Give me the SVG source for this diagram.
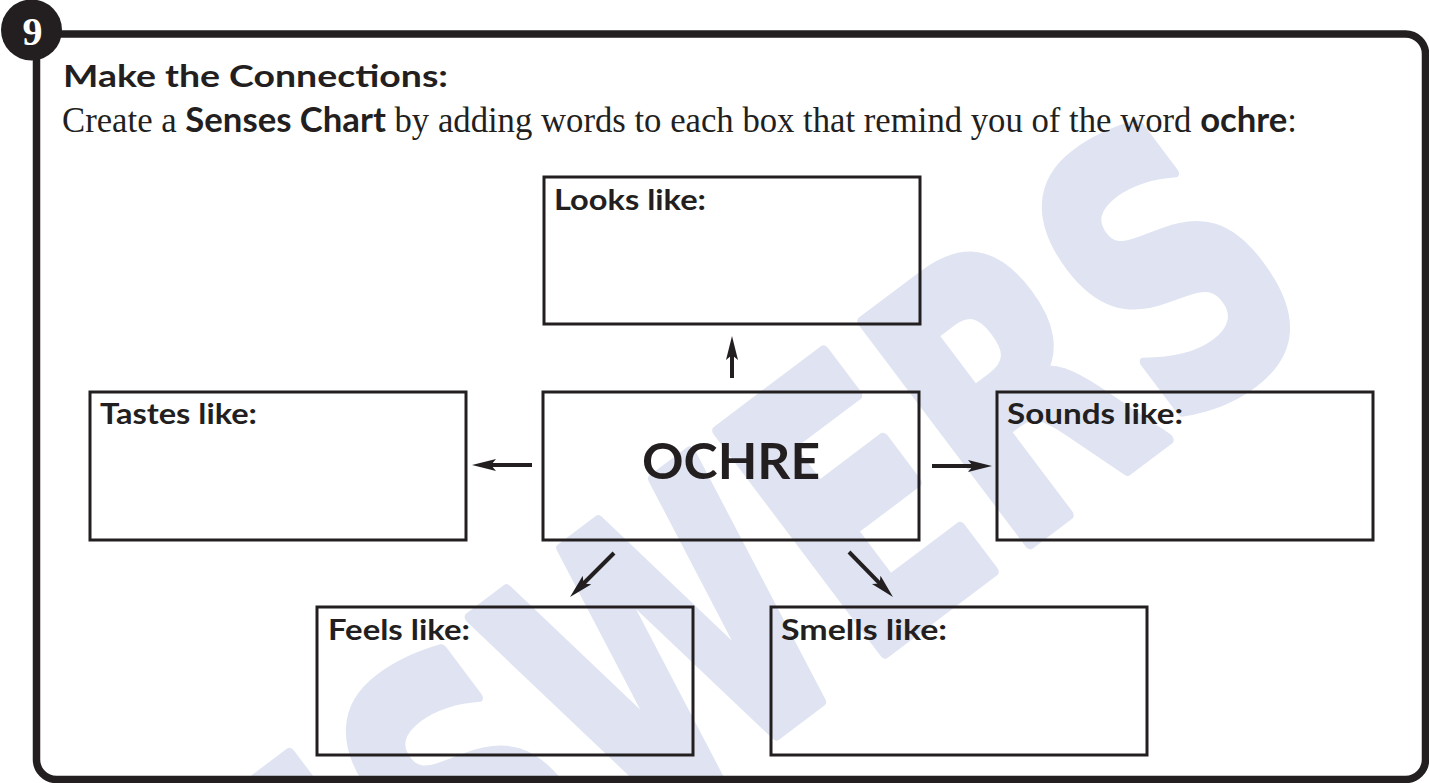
<svg xmlns="http://www.w3.org/2000/svg" width="1429" height="783" viewBox="0 0 1429 783">
<style>
.box{fill:none;stroke:#231f20;stroke-width:3}
.lbl{font-family:Lato,"Open Sans",sans-serif;font-weight:bold;font-size:29px;fill:#231f20}
.arr{stroke:#231f20;stroke-width:4;fill:none}
.wm{font-family:"DejaVu Sans","Liberation Sans",sans-serif;font-weight:bold;fill:#e0e4f2;stroke:#e0e4f2;stroke-width:12;stroke-linejoin:round}
</style>
<defs>
<marker id="ah" markerUnits="userSpaceOnUse" markerWidth="24" markerHeight="12" viewBox="0 0 24 12" refX="12" refY="6" orient="auto">
<path d="M0,0 L24,6 L0,12 L5,6 Z" fill="#231f20"/>
</marker>
</defs>
<rect width="1429" height="783" fill="#ffffff"/>
<g id="watermark">
<text class="wm" transform="translate(1326,320) rotate(-37) scale(0.7,1)" text-anchor="end" font-size="380">ANSWERS</text>
</g>
<g id="frame">
<rect x="36.5" y="34" width="1389" height="745.5" rx="20" fill="none" stroke="#231f20" stroke-width="7.5"/>
</g>
<g id="badge">
<circle cx="31.5" cy="30" r="30.5" fill="#231f20"/>
<text x="32.5" y="45" text-anchor="middle" font-family="'Liberation Serif',serif" font-weight="bold" font-size="40" fill="#ffffff">9</text>
</g>
<g id="heading">
<text x="63" y="87" font-family="Lato,'Open Sans',sans-serif" font-weight="bold" font-size="31" fill="#231f20" textLength="385" lengthAdjust="spacingAndGlyphs">Make the Connections:</text>
<text x="62" y="132" font-family="'Liberation Serif',serif" font-size="35" fill="#231f20" textLength="1235" lengthAdjust="spacingAndGlyphs">Create a <tspan font-family="Lato,'Open Sans',sans-serif" font-weight="bold">Senses Chart</tspan> by adding words to each box that remind you of the word <tspan font-family="Lato,'Open Sans',sans-serif" font-weight="bold">ochre</tspan>:</text>
</g>
<g id="connectors">
<line class="arr" x1="732" y1="378" x2="732" y2="348" marker-end="url(#ah)"/>
<line class="arr" x1="532" y1="465" x2="484" y2="465" marker-end="url(#ah)"/>
<line class="arr" x1="932" y1="466" x2="980" y2="466" marker-end="url(#ah)"/>
<line class="arr" x1="614" y1="553" x2="578.5" y2="588.5" marker-end="url(#ah)"/>
<line class="arr" x1="849" y1="552" x2="884.6" y2="588.4" marker-end="url(#ah)"/>
</g>
<g id="node-looks">
<rect class="box" x="544" y="177" width="376" height="147"/>
<text class="lbl" x="554" y="210" textLength="152" lengthAdjust="spacingAndGlyphs">Looks like:</text>
</g>
<g id="node-tastes">
<rect class="box" x="90" y="392" width="376" height="148"/>
<text class="lbl" x="100" y="424" textLength="157" lengthAdjust="spacingAndGlyphs">Tastes like:</text>
</g>
<g id="node-ochre">
<rect class="box" x="543" y="392" width="376" height="148"/>
<text x="731" y="479" text-anchor="middle" font-family="Lato,'Open Sans',sans-serif" font-weight="bold" font-size="50" fill="#231f20" textLength="178" lengthAdjust="spacingAndGlyphs">OCHRE</text>
</g>
<g id="node-sounds">
<rect class="box" x="997" y="392" width="376" height="148"/>
<text class="lbl" x="1007" y="424" textLength="176" lengthAdjust="spacingAndGlyphs">Sounds like:</text>
</g>
<g id="node-feels">
<rect class="box" x="317" y="607" width="376" height="148"/>
<text class="lbl" x="328" y="640" textLength="142" lengthAdjust="spacingAndGlyphs">Feels like:</text>
</g>
<g id="node-smells">
<rect class="box" x="771" y="607" width="376" height="148"/>
<text class="lbl" x="781" y="640" textLength="166" lengthAdjust="spacingAndGlyphs">Smells like:</text>
</g>
</svg>
